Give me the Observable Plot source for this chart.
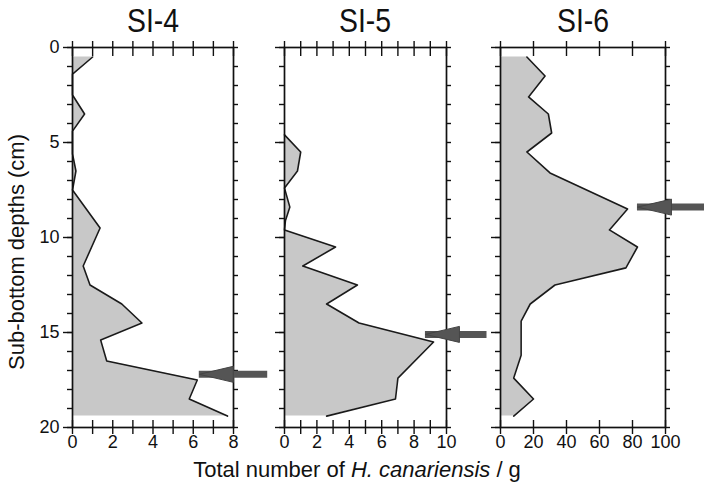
<!DOCTYPE html>
<html>
<head>
<meta charset="utf-8">
<script src="https://cdn.jsdelivr.net/npm/d3@7"></script>
<script src="https://cdn.jsdelivr.net/npm/@observablehq/plot@0.6"></script>
<style>
  body { margin: 0; background: #fff; }
  #fig { position: relative; width: 704px; height: 487px; overflow: hidden;
         font-family: "Liberation Sans", Arial, Helvetica, sans-serif; color: #111; }
  .panel { position: absolute; top: 0; }
  .title { position: absolute; top: 4px; font-size: 33px; line-height: 33px; white-space: nowrap;
           transform: translateX(-50%) scaleX(0.86); transform-origin: center; }
  .xlabel { position: absolute; left: 357px; top: 459px; font-size: 22px; line-height: 22px;
            white-space: nowrap; transform: translateX(-50%); }
  .ylabel { position: absolute; left: 17px; top: 252px; font-size: 22px; line-height: 22px;
            white-space: nowrap; transform: translate(-50%, -50%) rotate(-90deg); }
</style>
</head>
<body>
<div id="fig"></div>
<script>
// ---- data ----
const panelTitles = ["SI-4", "SI-5", "SI-6"];

const depthSI4 = [0.5, 1.4, 2.5, 3.5, 4.4, 5.6, 6.5, 7.5, 9.5, 11.5, 12.5, 13.5, 14.5, 15.4, 16.5, 17.5, 18.5, 19.4];
const valueSI4 = [1.0, 0, 0, 0.6, 0, 0, 0.17, 0, 1.37, 0.53, 0.87, 2.45, 3.45, 1.4, 1.7, 6.2, 5.8, 7.7];

const depthSI5 = [4.6, 5.5, 6.5, 7.4, 8.4, 9.1, 9.6, 10.5, 11.5, 12.5, 13.5, 14.5, 15.5, 17.4, 18.5, 19.4];
const valueSI5 = [0, 1.0, 0.8, 0, 0.33, 0.06, 0, 3.15, 1.13, 4.5, 2.6, 4.6, 9.2, 7.0, 6.85, 2.6];

const depthSI6 = [0.5, 1.5, 2.6, 3.5, 4.5, 5.5, 6.6, 8.5, 9.6, 10.5, 11.6, 12.5, 13.5, 14.4, 16.2, 17.4, 18.5, 19.4];
const valueSI6 = [16, 27, 17, 29, 31, 16, 30, 77, 66, 83, 76, 33, 18, 12.5, 12.5, 8, 20, 8];

const xMax = [8, 10, 100];
const xMinorTicks = [[0,1,2,3,4,5,6,7,8], [0,1,2,3,4,5,6,7,8,9,10], [0,20,40,60,80,100]];
const xLabelTicks = [[0,2,4,6,8], [0,2,4,6,8,10], [0,20,40,60,80,100]];
const yMinorTicks = [0,1,2,3,4,5,6,7,8,9,10,11,12,13,14,15,16,17,18,19,20];
const yMajorTicks = [0,5,10,15,20];

// arrows (depth in cm, tip and tail in x units of each panel)
const arrowDepth = [17.2, 15.1, 8.4];
const arrowTip = [6.3, 8.7, 83];
const arrowTail = [9.7, 12.5, 124];

// ---- layout ----
const layout = [
  {left: 0,   marginLeft: 72, frameW: 161, marginRight: 10},
  {left: 240, marginLeft: 44, frameW: 162, marginRight: 10},
  {left: 460, marginLeft: 40, frameW: 165, marginRight: 39}
];
const series = [[depthSI4, valueSI4], [depthSI5, valueSI5], [depthSI6, valueSI6]];

const arrowHead = {
  draw(ctx) {
    ctx.moveTo(0, 0);
    ctx.lineTo(34, -8);
    ctx.lineTo(34, 8);
    ctx.closePath();
  }
};

const fig = document.getElementById("fig");
const blank = () => "";

series.forEach(([depth, value], i) => {
  const L = layout[i];
  const data = depth.map((d, j) => ({depth: d, value: value[j]}));
  const arrow = [{depth: arrowDepth[i], tip: arrowTip[i], tail: arrowTail[i]}];
  const chart = Plot.plot({
    width: L.marginLeft + L.frameW + L.marginRight,
    height: 487,
    marginLeft: L.marginLeft,
    marginRight: L.marginRight,
    marginTop: 47,
    marginBottom: 60,
    style: {background: "transparent", overflow: "visible", fontFamily: "'Liberation Sans', Arial, sans-serif"},
    x: {domain: [0, xMax[i]]},
    y: {domain: [0, 20], reverse: true},
    marks: [
      Plot.areaX(data, {y: "depth", x: "value", fill: "#c8c8c8"}),
      Plot.lineX(data, {y: "depth", x: "value", stroke: "#1a1a1a", strokeWidth: 1.6}),
      Plot.frame({stroke: "#111", strokeWidth: 1.7}),
      Plot.axisX({anchor: "top", ticks: xMinorTicks[i], tickSize: 7, tickFormat: blank, label: null, strokeWidth: 1.4}),
      Plot.axisX({anchor: "top", ticks: xMinorTicks[i], tickSize: -8, tickFormat: blank, label: null, strokeWidth: 1.4}),
      Plot.axisX({anchor: "bottom", ticks: xMinorTicks[i], tickSize: 7, tickFormat: blank, label: null, strokeWidth: 1.4}),
      Plot.axisX({anchor: "bottom", ticks: xMinorTicks[i], tickSize: -7, tickFormat: blank, label: null, strokeWidth: 1.4}),
      Plot.text(xLabelTicks[i], {x: d => d, frameAnchor: "bottom", dy: 20, fontSize: 18, fill: "#111",
                text: d => String(d), fontFamily: "Liberation Sans"}),
      Plot.axisY({anchor: "left", ticks: yMinorTicks, tickSize: 5, tickFormat: blank, label: null, strokeWidth: 1.4}),
      Plot.axisY({anchor: "left", ticks: yMajorTicks, tickSize: 9, tickFormat: blank, label: null, strokeWidth: 1.4}),
      i === 0 ? Plot.text(yMajorTicks, {y: d => d, frameAnchor: "left", dx: -13, textAnchor: "end", fontSize: 18,
                fill: "#111", text: d => String(d), fontFamily: "Liberation Sans"}) : null,
      Plot.axisY({anchor: "right", ticks: yMinorTicks, tickSize: 4, tickFormat: blank, label: null, strokeWidth: 1.4}),
      Plot.ruleY(arrow, {y: "depth", x1: "tip", x2: "tail", stroke: "#555", strokeWidth: 7}),
      Plot.dot(arrow, {x: "tip", y: "depth", symbol: arrowHead, fill: "#555", stroke: "#444", strokeWidth: 1})
    ]
  });
  chart.classList.add("panel");
  chart.style.left = L.left + "px";
  fig.appendChild(chart);

  const t = document.createElement("div");
  t.className = "title";
  t.textContent = panelTitles[i];
  t.style.left = (L.left + L.marginLeft + L.frameW / 2) + "px";
  fig.appendChild(t);
});

const xl = document.createElement("div");
xl.className = "xlabel";
xl.innerHTML = "Total number of <i>H. canariensis</i> / g";
fig.appendChild(xl);

const yl = document.createElement("div");
yl.className = "ylabel";
yl.textContent = "Sub-bottom depths (cm)";
fig.appendChild(yl);
</script>
</body>
</html>
